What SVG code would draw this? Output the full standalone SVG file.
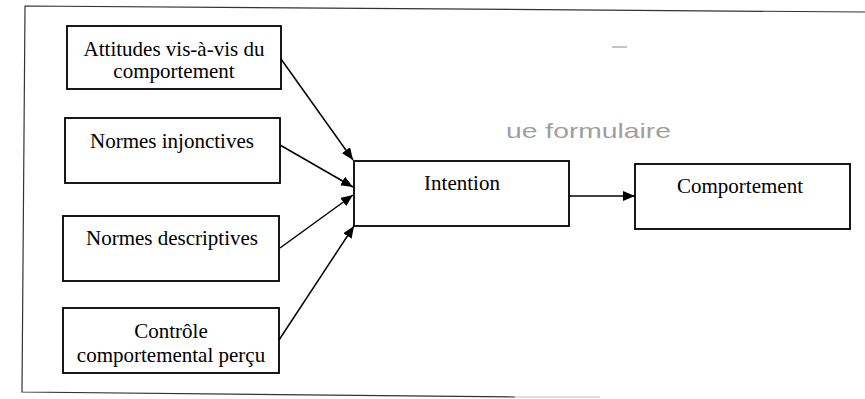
<svg xmlns="http://www.w3.org/2000/svg" width="865" height="399" viewBox="0 0 865 399">
  <defs>
    <marker id="arrow" viewBox="0 0 12 10" refX="12" refY="5" markerWidth="12" markerHeight="10" markerUnits="userSpaceOnUse" orient="auto">
      <path d="M0,0 L12,5 L0,10 Z" fill="#000"/>
    </marker>
    <style>
      .box { fill: #fff; stroke: #000; stroke-width: 1.8; }
      .lbl { font-family: "Liberation Serif", "Times New Roman", serif; font-size: 21px; fill: #000; text-anchor: middle; }
      .edge { fill: none; stroke: #000; stroke-width: 1.5; marker-end: url(#arrow); }
      .frame { fill: none; stroke: #333; stroke-width: 1.2; }
      .ghost { font-family: "Liberation Sans", Arial, sans-serif; font-size: 21px; fill: #888; }
    </style>
  </defs>

  <rect width="865" height="399" fill="#fff"/>

  <!-- outer frame (open on the right) -->
  <g id="frame">
    <polyline class="frame" points="865,12 25,6 22,392 515,397"/>
    <line x1="515" y1="397" x2="600" y2="397" stroke="#bbb" stroke-width="1.2"/>
    <line x1="612" y1="47" x2="627" y2="47" stroke="#888" stroke-width="1"/>
  </g>

  <!-- faint print-through text -->
  <text class="ghost" x="506" y="138" textLength="165" lengthAdjust="spacingAndGlyphs" opacity="0.8">ue formulaire</text>

  <g id="attitudes">
    <rect class="box" x="67" y="26" width="214" height="63"/>
    <text class="lbl" x="174" y="56">Attitudes vis-à-vis du</text>
    <text class="lbl" x="174" y="78">comportement</text>
  </g>

  <g id="normes-injonctives">
    <rect class="box" x="65" y="118" width="215" height="65"/>
    <text class="lbl" x="172" y="148">Normes injonctives</text>
  </g>

  <g id="normes-descriptives">
    <rect class="box" x="63" y="216" width="216" height="65"/>
    <text class="lbl" x="172" y="245">Normes descriptives</text>
  </g>

  <g id="controle">
    <rect class="box" x="63" y="308" width="216" height="65"/>
    <text class="lbl" x="171" y="338">Contrôle</text>
    <text class="lbl" x="171" y="362">comportemental perçu</text>
  </g>

  <g id="intention">
    <rect class="box" x="354" y="161" width="215" height="65"/>
    <text class="lbl" x="462" y="190">Intention</text>
  </g>

  <g id="comportement">
    <rect class="box" x="635" y="164" width="215" height="65"/>
    <text class="lbl" x="740" y="193">Comportement</text>
  </g>

  <g id="connectors">
    <line class="edge" x1="281" y1="59" x2="353" y2="160"/>
    <line class="edge" x1="280" y1="145" x2="353" y2="187"/>
    <line class="edge" x1="280" y1="248" x2="353" y2="195"/>
    <line class="edge" x1="279" y1="340" x2="354" y2="226"/>
    <line class="edge" x1="569" y1="196" x2="635" y2="196"/>
  </g>
</svg>
